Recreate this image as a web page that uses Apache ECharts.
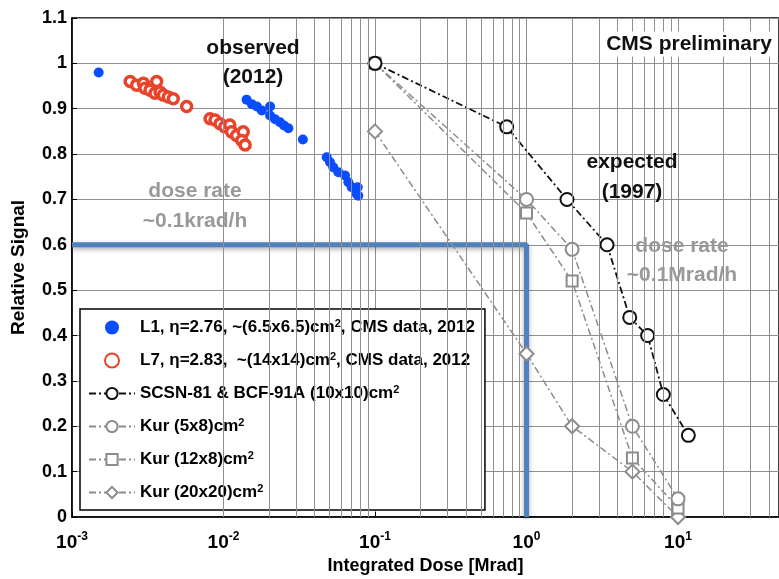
<!DOCTYPE html>
<html>
<head>
<meta charset="utf-8">
<script src="https://cdn.jsdelivr.net/npm/echarts@6/dist/echarts.min.js"></script>
<style>
html,body{margin:0;padding:0;background:#fff;}
#main{width:779px;height:579px;}
</style>
</head>
<body>
<div id="main"></div>
<script>
// L1 (blue dots), CMS data 2012
var l1Dose   = [0.0015, 0.0142, 0.0154, 0.0166, 0.0179, 0.0203, 0.0203, 0.0219, 0.0236, 0.0251, 0.0268,
                0.0334, 0.048, 0.0505, 0.053, 0.0573, 0.0634, 0.0667, 0.0702, 0.0769, 0.0757, 0.0776];
var l1Signal = [0.98, 0.92, 0.91, 0.905, 0.896, 0.905, 0.885, 0.877, 0.87, 0.863, 0.857,
                0.832, 0.793, 0.782, 0.771, 0.76, 0.753, 0.738, 0.727, 0.727, 0.712, 0.708];
// L7 (red circles), CMS data 2012
var l7Dose   = [0.00242, 0.00267, 0.00296, 0.00303, 0.00327, 0.00362, 0.00353, 0.00381, 0.00401, 0.00432, 0.00466, 0.00571,
                0.00815, 0.00879, 0.00948, 0.0102, 0.011, 0.0113, 0.0122, 0.0135, 0.0132, 0.0139];
var l7Signal = [0.96, 0.952, 0.956, 0.945, 0.941, 0.96, 0.934, 0.937, 0.93, 0.926, 0.922, 0.905,
                0.878, 0.875, 0.867, 0.86, 0.864, 0.849, 0.841, 0.849, 0.83, 0.82];
// expected 1997
var scsnDose   = [0.1, 0.74, 1.85, 3.4, 4.8, 6.3, 8.0, 11.7];
var scsnSignal = [1.0, 0.86, 0.70, 0.60, 0.44, 0.40, 0.27, 0.18];
var kur58Dose    = [0.1, 1, 2, 5, 10];
var kur58Signal  = [1.0, 0.70, 0.59, 0.20, 0.04];
var kur128Dose   = [0.1, 1, 2, 5, 10];
var kur128Signal = [1.0, 0.67, 0.52, 0.13, 0.02];
var kur2020Dose   = [0.1, 1, 2, 5, 10];
var kur2020Signal = [0.85, 0.36, 0.20, 0.10, 0.0];
// blue marker line
var markDose   = [0.001, 1, 1];
var markSignal = [0.6, 0.6, 0];

var xDecades = [-3, -2, -1, 0, 1];
var minorMult = [2, 3, 4, 5, 6, 7, 8, 9];
var xMax = 46.4;

var FONT = '"Liberation Sans", Arial, sans-serif';

function pairs(xs, ys){
    var out = [];
    for (var i = 0; i < xs.length; i++) out.push([xs[i], ys[i]]);
    return out;
}

// minor grid lines (2..9 x each decade)
var minorLines = [];
xDecades.forEach(function(e){
    minorMult.forEach(function(m){
        var v = m * Math.pow(10, e);
        if (v < xMax) minorLines.push({xAxis: v});
    });
});

var dashDot = [7, 3, 2, 3];

var names = {
    l1: 'L1, η=2.76, ~(6.5x6.5)cm², CMS data, 2012',
    l7: 'L7, η=2.83,  ~(14x14)cm², CMS data, 2012',
    scsn: 'SCSN-81 & BCF-91A (10x10)cm²',
    k58: 'Kur (5x8)cm²',
    k128: 'Kur (12x8)cm²',
    k2020: 'Kur (20x20)cm²'
};

var myChart = echarts.init(document.getElementById('main'));
var option = {
    animation: false,
    backgroundColor: '#fff',
    grid: {
        left: 72, top: 18, bottom: 62, right: 0,
        outerBoundsMode: 'none',
        show: true, borderColor: '#000', borderWidth: 1.5, backgroundColor: 'transparent'
    },
    xAxis: {
        type: 'log',
        logBase: 10,
        min: 0.001,
        max: xMax,
        name: 'Integrated Dose [Mrad]',
        nameLocation: 'middle',
        nameGap: 40,
        nameTextStyle: {fontFamily: FONT, fontWeight: 'bold', fontSize: 18, color: '#000'},
        axisLine: {lineStyle: {color: '#000', width: 1.5}},
        axisTick: {inside: true, length: 5, lineStyle: {color: '#000'}},
        splitLine: {show: true, lineStyle: {color: '#8f8f8f', width: 1}},
        axisLabel: {
            margin: 14,
            showMaxLabel: false,
            formatter: function(v){
                var e = Math.round(Math.log10(v));
                if (Math.abs(Math.log10(v) - e) > 1e-6) return '';
                return '{b|10}{s|' + e + '}';
            },
            rich: {
                b: {fontFamily: FONT, fontWeight: 'bold', fontSize: 19, color: '#000', lineHeight: 24},
                s: {fontFamily: FONT, fontWeight: 'bold', fontSize: 12, color: '#000', lineHeight: 12, verticalAlign: 'top'}
            }
        }
    },
    yAxis: {
        type: 'value',
        min: 0,
        max: 1.1,
        interval: 0.1,
        name: 'Relative Signal',
        nameLocation: 'middle',
        nameGap: 44,
        nameTextStyle: {fontFamily: FONT, fontWeight: 'bold', fontSize: 19, color: '#000'},
        axisLine: {show: true, lineStyle: {color: '#000', width: 1.5}},
        axisTick: {show: true, inside: true, length: 5, lineStyle: {color: '#000'}},
        splitLine: {show: true, lineStyle: {color: '#8f8f8f', width: 1}},
        axisLabel: {
            margin: 5,
            fontFamily: FONT, fontWeight: 'bold', fontSize: 18, color: '#000',
            formatter: function(v){ return String(Math.round(v * 10) / 10); }
        }
    },
    legend: {
        orient: 'vertical',
        left: 80,
        top: 309,
        backgroundColor: '#fff',
        borderColor: '#000',
        borderWidth: 1.5,
        borderRadius: 0,
        padding: [9, 10, 8, 8],
        itemWidth: 46,
        itemHeight: 14,
        itemGap: 14,
        formatter: function(name){ return name.replace('cm²', 'cm{s|2}'); },
        textStyle: {
            fontFamily: FONT, fontWeight: 'bold', fontSize: 17, color: '#000', lineHeight: 19,
            rich: {
                s: {fontFamily: FONT, fontWeight: 'bold', fontSize: 11, color: '#000', lineHeight: 11, verticalAlign: 'top'}
            }
        },
        data: [
            {name: names.l1, icon: 'circle'},
            {name: names.l7, icon: 'circle'},
            names.scsn, names.k58, names.k128, names.k2020
        ]
    },
    graphic: [
        {type: 'text', x: 253, y: 63, z: 100, style: {text: 'observed\n(2012)', align: 'center', verticalAlign: 'middle',
            font: 'bold 21px ' + FONT, lineHeight: 29, fill: '#111'}},
        {type: 'text', x: 689, y: 44, z: 100, style: {text: 'CMS preliminary', align: 'center', verticalAlign: 'middle',
            font: 'bold 21px ' + FONT, fill: '#111', backgroundColor: '#fff', padding: [2, 3]}},
        {type: 'text', x: 632, y: 177, z: 100, style: {text: 'expected\n(1997)', align: 'center', verticalAlign: 'middle',
            font: 'bold 21px ' + FONT, lineHeight: 30, fill: '#111'}},
        {type: 'text', x: 195, y: 206, z: 100, style: {text: 'dose rate\n~0.1krad/h', align: 'center', verticalAlign: 'middle',
            font: 'bold 21px ' + FONT, lineHeight: 30, fill: '#999'}},
        {type: 'text', x: 682, y: 261, z: 100, style: {text: 'dose rate\n~0.1Mrad/h', align: 'center', verticalAlign: 'middle',
            font: 'bold 21px ' + FONT, lineHeight: 29, fill: '#999'}}
    ],
    series: [
        {
            name: 'minor grid',
            type: 'line',
            data: [],
            silent: true,
            markLine: {
                silent: true,
                symbol: 'none',
                label: {show: false},
                lineStyle: {color: '#8f8f8f', width: 1, type: 'solid'},
                data: minorLines
            }
        },
        {
            name: 'marker',
            type: 'line',
            data: pairs(markDose, markSignal),
            symbol: 'none',
            z: 3,
            lineStyle: {color: '#4f81bd', width: 5, shadowColor: 'rgba(0,0,0,0.35)', shadowBlur: 5, shadowOffsetY: 2}
        },
        {
            name: names.k2020,
            type: 'line',
            data: pairs(kur2020Dose, kur2020Signal),
            symbol: 'emptyDiamond',
            symbolSize: 14,
            lineStyle: {color: '#8c8c8c', width: 1.5, type: dashDot},
            itemStyle: {color: '#8c8c8c', borderWidth: 2}
        },
        {
            name: names.k128,
            type: 'line',
            data: pairs(kur128Dose, kur128Signal),
            symbol: 'emptyRect',
            symbolSize: 11,
            lineStyle: {color: '#8c8c8c', width: 1.5, type: dashDot},
            itemStyle: {color: '#8c8c8c', borderWidth: 2}
        },
        {
            name: names.k58,
            type: 'line',
            data: pairs(kur58Dose, kur58Signal),
            symbol: 'emptyCircle',
            symbolSize: 13,
            lineStyle: {color: '#8c8c8c', width: 1.5, type: dashDot},
            itemStyle: {color: '#8c8c8c', borderWidth: 2}
        },
        {
            name: names.scsn,
            type: 'line',
            data: pairs(scsnDose, scsnSignal),
            symbol: 'emptyCircle',
            symbolSize: 13,
            lineStyle: {color: '#111', width: 1.8, type: dashDot},
            itemStyle: {color: '#111', borderWidth: 2}
        },
        {
            name: names.l7,
            type: 'scatter',
            data: pairs(l7Dose, l7Signal),
            symbol: 'circle',
            symbolSize: 10,
            itemStyle: {color: '#fff', borderColor: '#e8432b', borderWidth: 3.5, opacity: 1}
        },
        {
            name: names.l1,
            type: 'scatter',
            data: pairs(l1Dose, l1Signal),
            symbol: 'circle',
            symbolSize: 10,
            itemStyle: {color: '#0a4cff', opacity: 1}
        }
    ]
};
myChart.setOption(option);
</script>
</body>
</html>
